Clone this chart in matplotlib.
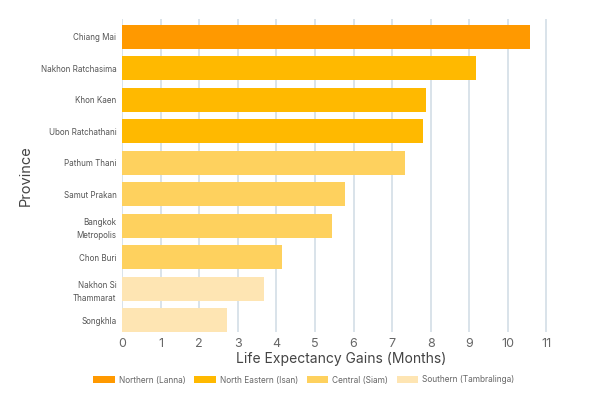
import matplotlib
matplotlib.use("Agg")
import matplotlib.pyplot as plt
from matplotlib.patches import Patch

plt.rcParams['font.family'] = ['Inter', 'DejaVu Sans']

provinces = ['Chiang Mai', 'Nakhon Ratchasima', 'Khon Kaen', 'Ubon Ratchathani',
             'Pathum Thani', 'Samut Prakan', 'Bangkok\nMetropolis', 'Chon Buri',
             'Nakhon Si\nThammarat', 'Songkhla']
gains = [10.57, 9.17, 7.88, 7.80, 7.33, 5.78, 5.44, 4.15, 3.68, 2.72]
regions = ['Northern', 'North Eastern', 'North Eastern', 'North Eastern',
           'Central', 'Central', 'Central', 'Central', 'Southern', 'Southern']

region_names = ['Northern', 'North Eastern', 'Central', 'Southern']
region_labels = ['Northern (Lanna)', 'North Eastern (Isan)', 'Central (Siam)',
                 'Southern (Tambralinga)']
region_colors = {'Northern': '#FF9900', 'North Eastern': '#FFB900',
                 'Central': '#FED15E', 'Southern': '#FEE5B3'}

fig = plt.figure(figsize=(6.08, 4.16), dpi=100)
ax = fig.add_axes([122 / 608, 1 - 332 / 416, (560 - 122) / 608, (332 - 19) / 416])

ypos = list(range(len(provinces)))
ax.barh(ypos, gains, height=0.765, color=[region_colors[r] for r in regions], zorder=2)
ax.set_yticks(ypos)
ax.set_yticklabels(provinces, fontsize=5.8, color='#555555', linespacing=1.6)
ax.set_ylim(9.38, -0.57)
ax.set_xlim(0, 11.35)
ax.set_xticks(range(0, 12))
ax.tick_params(axis='x', labelsize=9, colors='#666666', length=0, pad=4)
ax.tick_params(axis='y', length=0, pad=4)
ax.grid(axis='x', color='#D3DEE6', linewidth=1.2, zorder=0)
for s in ax.spines.values():
    s.set_visible(False)

ax.set_xlabel('Life Expectancy Gains (Months)', fontsize=10, color='#444444', labelpad=2)
ax.set_ylabel('Province', fontsize=10.5, color='#444444', labelpad=6)

handles = [Patch(facecolor=region_colors[r], edgecolor='none') for r in region_names]
fig.legend(handles, region_labels, loc='center', bbox_to_anchor=(0.5, 1 - 380 / 416),
           ncol=4, frameon=False, fontsize=6, labelcolor='#666666',
           handlelength=2.6, handleheight=1.0, columnspacing=1.0, handletextpad=0.5)

fig.savefig('out.png', dpi=100)
